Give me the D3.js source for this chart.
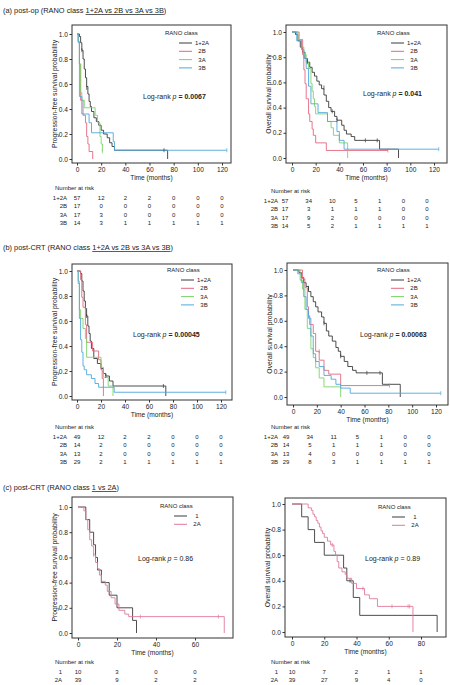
<!DOCTYPE html>
<html>
<head>
<meta charset="UTF-8">
<script src="https://d3js.org/d3.v7.min.js"></script>
<style>
  body { margin: 0; background: #fff; font-family: "Liberation Sans", Arial, sans-serif; }
  text { fill: #222; }
</style>
</head>
<body>
<svg id="fig" width="450" height="685"></svg>
<script>
// Kaplan-Meier step data: [time, survival after step]
const aPfs1_2A = [[0,1],[2,0.98],[3,0.93],[4,0.87],[5,0.8],[6,0.72],[7,0.65],[8,0.58],[9,0.52],[10,0.46],[11,0.42],[12,0.38],[14,0.33],[16,0.3],[18,0.27],[20,0.23],[22,0.2],[25,0.17],[27,0.13],[29,0.1],[31,0.07],[75,0]];
const aPfs2B = [[0,1],[1,0.94],[2,0.76],[3,0.47],[5,0.35],[7,0.29],[8,0.18],[9,0.12],[10,0.06],[13,0]];
const aPfs3A = [[0,1],[1,0.94],[2,0.76],[3,0.53],[4,0.47],[6,0.41],[15,0.35],[17,0.29],[19,0.18],[20,0.12],[21,0.06]];
const aPfs3B = [[0,1],[1,0.93],[2,0.5],[4,0.36],[10,0.29],[12,0.21],[30,0.14],[31,0.07],[124,0.07]];

const aOs1_2A = [[0,1],[3,0.98],[5,0.93],[7,0.88],[9,0.84],[11,0.79],[13,0.76],[15,0.72],[17,0.68],[19,0.65],[21,0.61],[23,0.58],[25,0.55],[27,0.5],[29,0.45],[31,0.4],[33,0.37],[36,0.33],[38,0.3],[42,0.26],[44,0.22],[46,0.19],[50,0.17],[53,0.14],[74,0.07],[90,0]];
const aOs2B = [[0,1],[6,0.94],[9,0.82],[10,0.7],[11,0.59],[12,0.47],[14,0.35],[15,0.29],[17,0.23],[18,0.18],[20,0.12],[29,0.06],[81,0.06]];
const aOs3A = [[0,1],[5,0.94],[8,0.88],[10,0.82],[12,0.76],[14,0.71],[16,0.59],[17,0.53],[18,0.47],[19,0.41],[20,0.35],[30,0.29],[33,0.24],[35,0.18],[40,0.12],[47,0]];
const aOs3B = [[0,1],[4,0.93],[8,0.86],[10,0.79],[12,0.71],[14,0.57],[16,0.43],[22,0.36],[30,0.29],[38,0.21],[40,0.14],[44,0.07],[124,0.07]];

const bPfs1_2A = [[0,1],[3,0.98],[4,0.92],[5,0.84],[6,0.76],[7,0.7],[8,0.64],[9,0.56],[10,0.5],[11,0.44],[12,0.38],[14,0.3],[17,0.26],[20,0.22],[22,0.18],[24,0.16],[27,0.12],[30,0.08],[74,0]];
const bPfs2B = [[0,1],[3,0.93],[4,0.79],[5,0.71],[7,0.57],[8,0.43],[13,0.36],[18,0.29],[20,0.21],[21,0.14],[22,0]];
const bPfs3A = [[0,1],[1,0.92],[2,0.69],[3,0.62],[5,0.54],[7,0.46],[8,0.31],[20,0.23],[22,0.15],[26,0.08],[30,0]];
const bPfs3B = [[0,1],[1,0.9],[2,0.62],[3,0.45],[4,0.35],[5,0.24],[6,0.21],[8,0.17],[12,0.14],[15,0.1],[18,0.07],[31,0.03],[124,0.03]];

const bOs1_2A = [[0,1],[5,0.98],[7,0.94],[9,0.9],[11,0.87],[13,0.83],[15,0.79],[17,0.75],[19,0.71],[21,0.67],[24,0.63],[26,0.58],[28,0.52],[30,0.48],[33,0.44],[36,0.39],[38,0.36],[40,0.32],[43,0.28],[46,0.24],[50,0.21],[53,0.19],[75,0.1],[90,0]];
const bOs2B = [[0,1],[8,0.93],[10,0.86],[12,0.71],[13,0.64],[14,0.57],[17,0.5],[19,0.36],[22,0.29],[26,0.21],[30,0.18],[40,0.09],[81,0.09]];
const bOs3A = [[0,1],[6,0.92],[8,0.85],[10,0.69],[12,0.54],[15,0.38],[17,0.31],[19,0.23],[22,0.15],[26,0.08],[40,0]];
const bOs3B = [[0,1],[4,0.97],[7,0.9],[9,0.79],[11,0.69],[13,0.62],[15,0.48],[17,0.34],[19,0.28],[22,0.24],[26,0.17],[32,0.14],[36,0.1],[40,0.07],[48,0.03],[124,0.03]];

const cPfs1 = [[0,1],[4,0.9],[6,0.8],[8,0.7],[9,0.6],[10,0.5],[12,0.4],[16,0.3],[20,0.2],[28,0.1],[30,0]];
const cPfs2A = [[0,1],[3,0.97],[4,0.9],[5,0.82],[6,0.74],[7,0.69],[8,0.62],[9,0.56],[10,0.51],[11,0.46],[12,0.41],[14,0.38],[15,0.33],[17,0.28],[19,0.23],[21,0.18],[24,0.15],[26,0.13],[75,0]];
const cOs1 = [[0,1],[6,0.9],[10,0.8],[14,0.7],[20,0.6],[32,0.5],[34,0.4],[38,0.27],[42,0.13],[90,0]];
const cOs2A = [[0,1],[10,0.97],[12,0.95],[13,0.92],[14,0.9],[15,0.87],[16,0.85],[17,0.82],[18,0.79],[19,0.77],[20,0.74],[22,0.71],[24,0.68],[26,0.63],[27,0.6],[28,0.55],[29,0.5],[31,0.47],[33,0.45],[34,0.42],[37,0.38],[40,0.34],[45,0.29],[48,0.26],[53,0.2],[75,0]];

// censor marks: [time, survival, group index]
const aPfsCens = [[4,0.87,0],[8,0.57,0],[72,0.07,0],[21,0.06,2],[124,0.07,3]];
const aOsCens = [[13,0.76,0],[27,0.56,0],[34,0.37,0],[38,0.3,0],[62,0.14,0],[72,0.14,0],[81,0.06,1],[124,0.07,3]];
const bPfsCens = [[8,0.64,0],[24,0.16,0],[72,0.08,0],[124,0.03,3]];
const bOsCens = [[13,0.86,0],[26,0.58,0],[40,0.32,0],[62,0.19,0],[73,0.19,0],[22,0.36,1],[81,0.09,1],[124,0.03,3]];
const cPfsCens = [[8,0.62,1],[32,0.13,1],[72,0.13,1]];
const cOsCens = [[25,0.68,1],[36,0.4,0],[44,0.34,1],[62,0.2,1],[72,0.2,1],[73,0.2,1]];

const groups4 = ["1+2A", "2B", "3A", "3B"];
const groups2 = ["1", "2A"];
const colors4 = ["#3a3a3a", "#e5667f", "#7fd16c", "#4fa8dc"];
const colors2 = ["#3a3a3a", "#e07a98"];

const aPfsRisk = [[57,12,2,2,0,0,0],[17,0,0,0,0,0,0],[17,3,0,0,0,0,0],[14,3,1,1,1,1,1]];
const aOsRisk = [[57,34,10,5,1,0,0],[17,3,1,1,1,0,0],[17,9,2,0,0,0,0],[14,5,2,1,1,1,1]];
const bPfsRisk = [[49,12,2,2,0,0,0],[14,2,0,0,0,0,0],[13,2,0,0,0,0,0],[29,2,1,1,1,1,1]];
const bOsRisk = [[49,34,11,5,1,0,0],[14,5,1,1,1,0,0],[13,4,0,0,0,0,0],[29,8,3,1,1,1,1]];
const cPfsRisk = [[10,3,0,0],[39,9,2,2]];
const cOsRisk = [[10,7,2,1,1],[39,27,9,4,0]];

const ticks120 = [0,20,40,60,80,100,120];
const ticks60 = [0,20,40,60];
const ticks80 = [0,20,40,60,80];
const yTicks = [0,0.2,0.4,0.6,0.8,1.0];

const svg = d3.select("#fig");

function panel(o) {
  const g = svg.append("g");
  const x = d3.scaleLinear().domain([0, o.xmax]).range([o.x0, o.x1]);
  const y = d3.scaleLinear().domain([0, 1]).range([o.y0, o.y1]);

  g.append("rect").attr("x", o.bx0).attr("y", o.by0)
    .attr("width", o.bx1 - o.bx0).attr("height", o.by1 - o.by0)
    .attr("fill", "none").attr("stroke", "#333").attr("stroke-width", 1);

  const xa = g.append("g").attr("transform", `translate(0,${o.by1})`)
    .call(d3.axisBottom(x).tickValues(o.xt).tickSize(2.5).tickPadding(1.5).tickFormat(d3.format("d")));
  const ya = g.append("g").attr("transform", `translate(${o.bx0},0)`)
    .call(d3.axisLeft(y).tickValues(yTicks).tickSize(2.5).tickPadding(1.5).tickFormat(d3.format(".1f")));
  [xa, ya].forEach(a => {
    a.select(".domain").remove();
    a.selectAll("line").attr("stroke", "#333");
    a.selectAll("text").attr("font-size", 6.6).attr("fill", "#222");
  });

  g.append("text").attr("x", (o.bx0 + o.bx1) / 2).attr("y", o.by1 + 17)
    .attr("text-anchor", "middle").attr("font-size", 6.6).text("Time (months)");
  g.append("text").attr("transform", `translate(${o.bx0 - 15},${(o.by0 + o.by1) / 2}) rotate(-90)`)
    .attr("text-anchor", "middle").attr("font-size", 6.8).text(o.ylab);

  const line = d3.line().x(d => x(d[0])).y(d => y(d[1])).curve(d3.curveStepAfter);
  o.series.forEach((s, i) => {
    g.append("path").attr("d", line(s)).attr("fill", "none")
      .attr("stroke", o.colors[i]).attr("stroke-width", 0.9);
  });
  o.cens.forEach(c => {
    g.append("line").attr("x1", x(c[0])).attr("x2", x(c[0]))
      .attr("y1", y(c[1]) - 2).attr("y2", y(c[1]) + 2)
      .attr("stroke", o.colors[c[2]]).attr("stroke-width", 0.7);
  });

  // legend
  const lg = g.append("g");
  lg.append("text").attr("x", o.lx).attr("y", o.ly).attr("font-size", 6).text("RANO  class");
  o.groups.forEach((name, i) => {
    const yy = o.ly + 8 + i * 8.3;
    lg.append("line").attr("x1", o.lx + 14).attr("x2", o.lx + 27).attr("y1", yy).attr("y2", yy)
      .attr("stroke", o.colors[i]).attr("stroke-width", 1);
    lg.append("text").attr("x", o.lx + 37).attr("y", yy + 2).attr("text-anchor", "middle")
      .attr("font-size", 6).text(name);
  });

  const pt = g.append("text").attr("x", o.px).attr("y", o.py).attr("font-size", 7);
  pt.append("tspan").text("Log-rank ");
  pt.append("tspan").attr("font-style", "italic").text("p");
  pt.append("tspan").attr("font-weight", o.bold ? "bold" : "normal").text(" = " + o.p);

  // risk table
  g.append("text").attr("x", o.rx).attr("y", o.ry).attr("font-size", 6).text("Number at risk");
  o.risk.forEach((row, i) => {
    const yy = o.ry + 10 + i * 8.3;
    g.append("text").attr("x", o.rlab).attr("y", yy).attr("text-anchor", "end")
      .attr("font-size", 6).text(o.groups[i]);
    row.forEach((v, j) => {
      g.append("text").attr("x", x(o.xt[j]) + (o.roff || 0)).attr("y", yy)
        .attr("text-anchor", "middle").attr("font-size", 6).text(v);
    });
  });
}

function title(y, pre, ul, post) {
  const t = svg.append("text").attr("x", 3).attr("y", y).attr("font-size", 7.4);
  t.append("tspan").text(pre);
  t.append("tspan").attr("text-decoration", "underline").text(ul);
  t.append("tspan").text(post);
}

const pfsLab = "Progression-free survival probability";
const osLab = "Overall survival probability";

title(13, "(a) post-op (RANO class ", "1+2A vs 2B vs 3A vs 3B", ")");
panel({bx0:72,bx1:231,by0:25,by1:163,x0:77,x1:222,y0:159,y1:34,xmax:120,xt:ticks120,
  ylab:pfsLab,series:[aPfs1_2A,aPfs2B,aPfs3A,aPfs3B],cens:aPfsCens,colors:colors4,groups:groups4,
  lx:165,ly:35,px:143,py:99,p:"0.0067",bold:true,rx:55,ry:190,rlab:67,risk:aPfsRisk});
panel({bx0:286,bx1:447,by0:25,by1:163,x0:292,x1:434,y0:158,y1:32,xmax:120,xt:ticks120,
  ylab:osLab,series:[aOs1_2A,aOs2B,aOs3A,aOs3B],cens:aOsCens,colors:colors4,groups:groups4,
  lx:377,ly:35,px:363,py:96,p:"0.041",bold:true,rx:271,ry:193,rlab:278,roff:-7,risk:aOsRisk});

title(250, "(b) post-CRT (RANO class ", "1+2A vs 2B vs 3A vs 3B", ")");
panel({bx0:72,bx1:232,by0:264,by1:400,x0:77,x1:221,y0:396,y1:271,xmax:120,xt:ticks120,
  ylab:pfsLab,series:[bPfs1_2A,bPfs2B,bPfs3A,bPfs3B],cens:bPfsCens,colors:colors4,groups:groups4,
  lx:167,ly:272,px:133,py:337,p:"0.00045",bold:true,rx:55,ry:429,rlab:67,risk:bPfsRisk});
panel({bx0:287,bx1:448,by0:263,by1:405,x0:293,x1:436,y0:397,y1:270,xmax:120,xt:ticks120,
  ylab:osLab,series:[bOs1_2A,bOs2B,bOs3A,bOs3B],cens:bOsCens,colors:colors4,groups:groups4,
  lx:377,ly:272,px:360,py:337,p:"0.00063",bold:true,rx:271,ry:429,rlab:278,roff:-7,risk:bOsRisk});

title(490, "(c) post-CRT (RANO class ", "1 vs 2A", ")");
panel({bx0:72,bx1:233,by0:497,by1:638,x0:78,x1:195,y0:633,y1:507,xmax:60,xt:ticks60,
  ylab:pfsLab,series:[cPfs1,cPfs2A],cens:cPfsCens,colors:colors2,groups:groups2,
  lx:160,ly:508,px:138,py:561,p:"0.86",bold:false,rx:55,ry:664,rlab:62,risk:cPfsRisk});
panel({bx0:285,bx1:446,by0:498,by1:637,x0:292,x1:421,y0:632,y1:504,xmax:80,xt:ticks80,
  ylab:osLab,series:[cOs1,cOs2A],cens:cOsCens,colors:colors2,groups:groups2,
  lx:378,ly:509,px:365,py:561,p:"0.89",bold:false,rx:271,ry:664,rlab:278,risk:cOsRisk});
</script>
</body>
</html>
